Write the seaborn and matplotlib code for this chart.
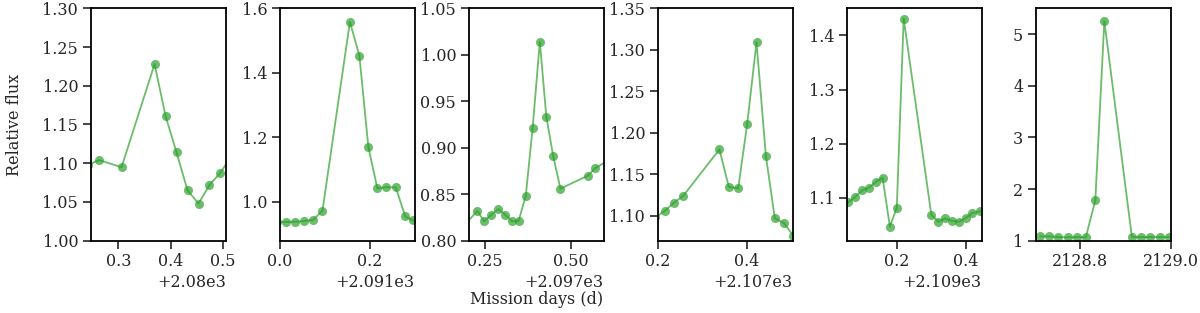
import matplotlib
matplotlib.use('Agg')
import matplotlib.pyplot as plt
import matplotlib.ticker as mticker
import pandas as pd
import seaborn as sns

sns.set_style('ticks')
plt.rcParams['font.family'] = 'DejaVu Serif'
plt.rcParams['font.size'] = 11.5

# Flare light curves (mission days, relative flux)
t1 = [2080.242, 2080.263, 2080.306, 2080.369, 2080.390, 2080.411, 2080.432,
      2080.453, 2080.474, 2080.494, 2080.515]
f1 = [1.098, 1.104, 1.095, 1.228, 1.161, 1.114, 1.065, 1.048, 1.072, 1.087, 1.108]

t2 = [2090.994, 2091.015, 2091.035, 2091.054, 2091.074, 2091.095, 2091.156,
      2091.177, 2091.197, 2091.217, 2091.237, 2091.258, 2091.279, 2091.296, 2091.316]
f2 = [0.938, 0.938, 0.939, 0.941, 0.944, 0.973, 1.558, 1.453, 1.170, 1.042,
      1.046, 1.045, 0.955, 0.943, 0.938]

t3 = [2097.186, 2097.228, 2097.248, 2097.269, 2097.289, 2097.309, 2097.329,
      2097.348, 2097.369, 2097.389, 2097.410, 2097.429, 2097.449, 2097.470,
      2097.550, 2097.571, 2097.612]
f3 = [0.815, 0.832, 0.821, 0.828, 0.834, 0.828, 0.821, 0.821, 0.848, 0.921,
      1.014, 0.933, 0.891, 0.856, 0.870, 0.878, 0.887]

t4 = [2107.195, 2107.216, 2107.237, 2107.257, 2107.338, 2107.359, 2107.380,
      2107.400, 2107.421, 2107.442, 2107.462, 2107.483, 2107.503, 2107.524]
f4 = [1.098, 1.106, 1.116, 1.124, 1.180, 1.135, 1.133, 1.210, 1.309, 1.172,
      1.097, 1.091, 1.076, 1.060]

t5 = [2109.039, 2109.060, 2109.080, 2109.100, 2109.120, 2109.140, 2109.159,
      2109.180, 2109.200, 2109.220, 2109.300, 2109.320, 2109.339, 2109.359,
      2109.380, 2109.400, 2109.419, 2109.440, 2109.460]
f5 = [1.085, 1.092, 1.102, 1.114, 1.119, 1.130, 1.137, 1.047, 1.082, 1.431,
      1.069, 1.056, 1.062, 1.058, 1.056, 1.063, 1.072, 1.075, 1.077]

t6 = [2128.711, 2128.731, 2128.751, 2128.772, 2128.792, 2128.812, 2128.833,
      2128.853, 2128.914, 2128.934, 2128.955, 2128.976, 2128.996]
f6 = [1.084, 1.084, 1.071, 1.065, 1.071, 1.065, 1.782, 5.252, 1.071, 1.071,
      1.071, 1.071, 1.071]

panels = [
    (t1, f1, (2080.247, 2080.505), (1.0, 1.3), 0.1, 0.05),
    (t2, f2, (2091.0, 2091.3), (0.88, 1.6), 0.2, 0.2),
    (t3, f3, (2097.203, 2097.596), (0.8, 1.05), 0.25, 0.05),
    (t4, f4, (2107.2, 2107.502), (1.07, 1.35), 0.2, 0.05),
    (t5, f5, (2109.055, 2109.446), (1.021, 1.45), 0.2, 0.1),
    (t6, f6, (2128.701, 2129.0), (1.0, 5.5), 0.2, 1.0),
]

fig, axs = plt.subplots(1, 6, figsize=(12, 3.13), dpi=100)
fig.subplots_adjust(left=0.0756, right=0.9756, top=0.9735, bottom=0.231, wspace=0.4)

for ax, (t, f, xl, yl, xs, ys) in zip(axs, panels):
    df = pd.DataFrame({'time': t, 'flux': f})
    sns.lineplot(x='time', y='flux', data=df, ax=ax, color='tab:green',
                 alpha=0.7, marker='o', markersize=6.5, markeredgewidth=0,
                 linewidth=1.3)
    ax.set_xlim(*xl)
    ax.set_ylim(*yl)
    ax.xaxis.set_major_locator(mticker.MultipleLocator(xs))
    ax.yaxis.set_major_locator(mticker.MultipleLocator(ys))
    ax.set_xlabel('')
    ax.set_ylabel('')
    ax.tick_params(length=5.5, width=1.2, labelsize=11.5)
    for s in ax.spines.values():
        s.set_linewidth(1.3)
        s.set_color('black')

axs[0].set_ylabel('Relative flux', fontsize=11.5, labelpad=14)
axs[2].set_xlabel('Mission days (d)', fontsize=11.5, labelpad=15)

fig.savefig('out.png')
